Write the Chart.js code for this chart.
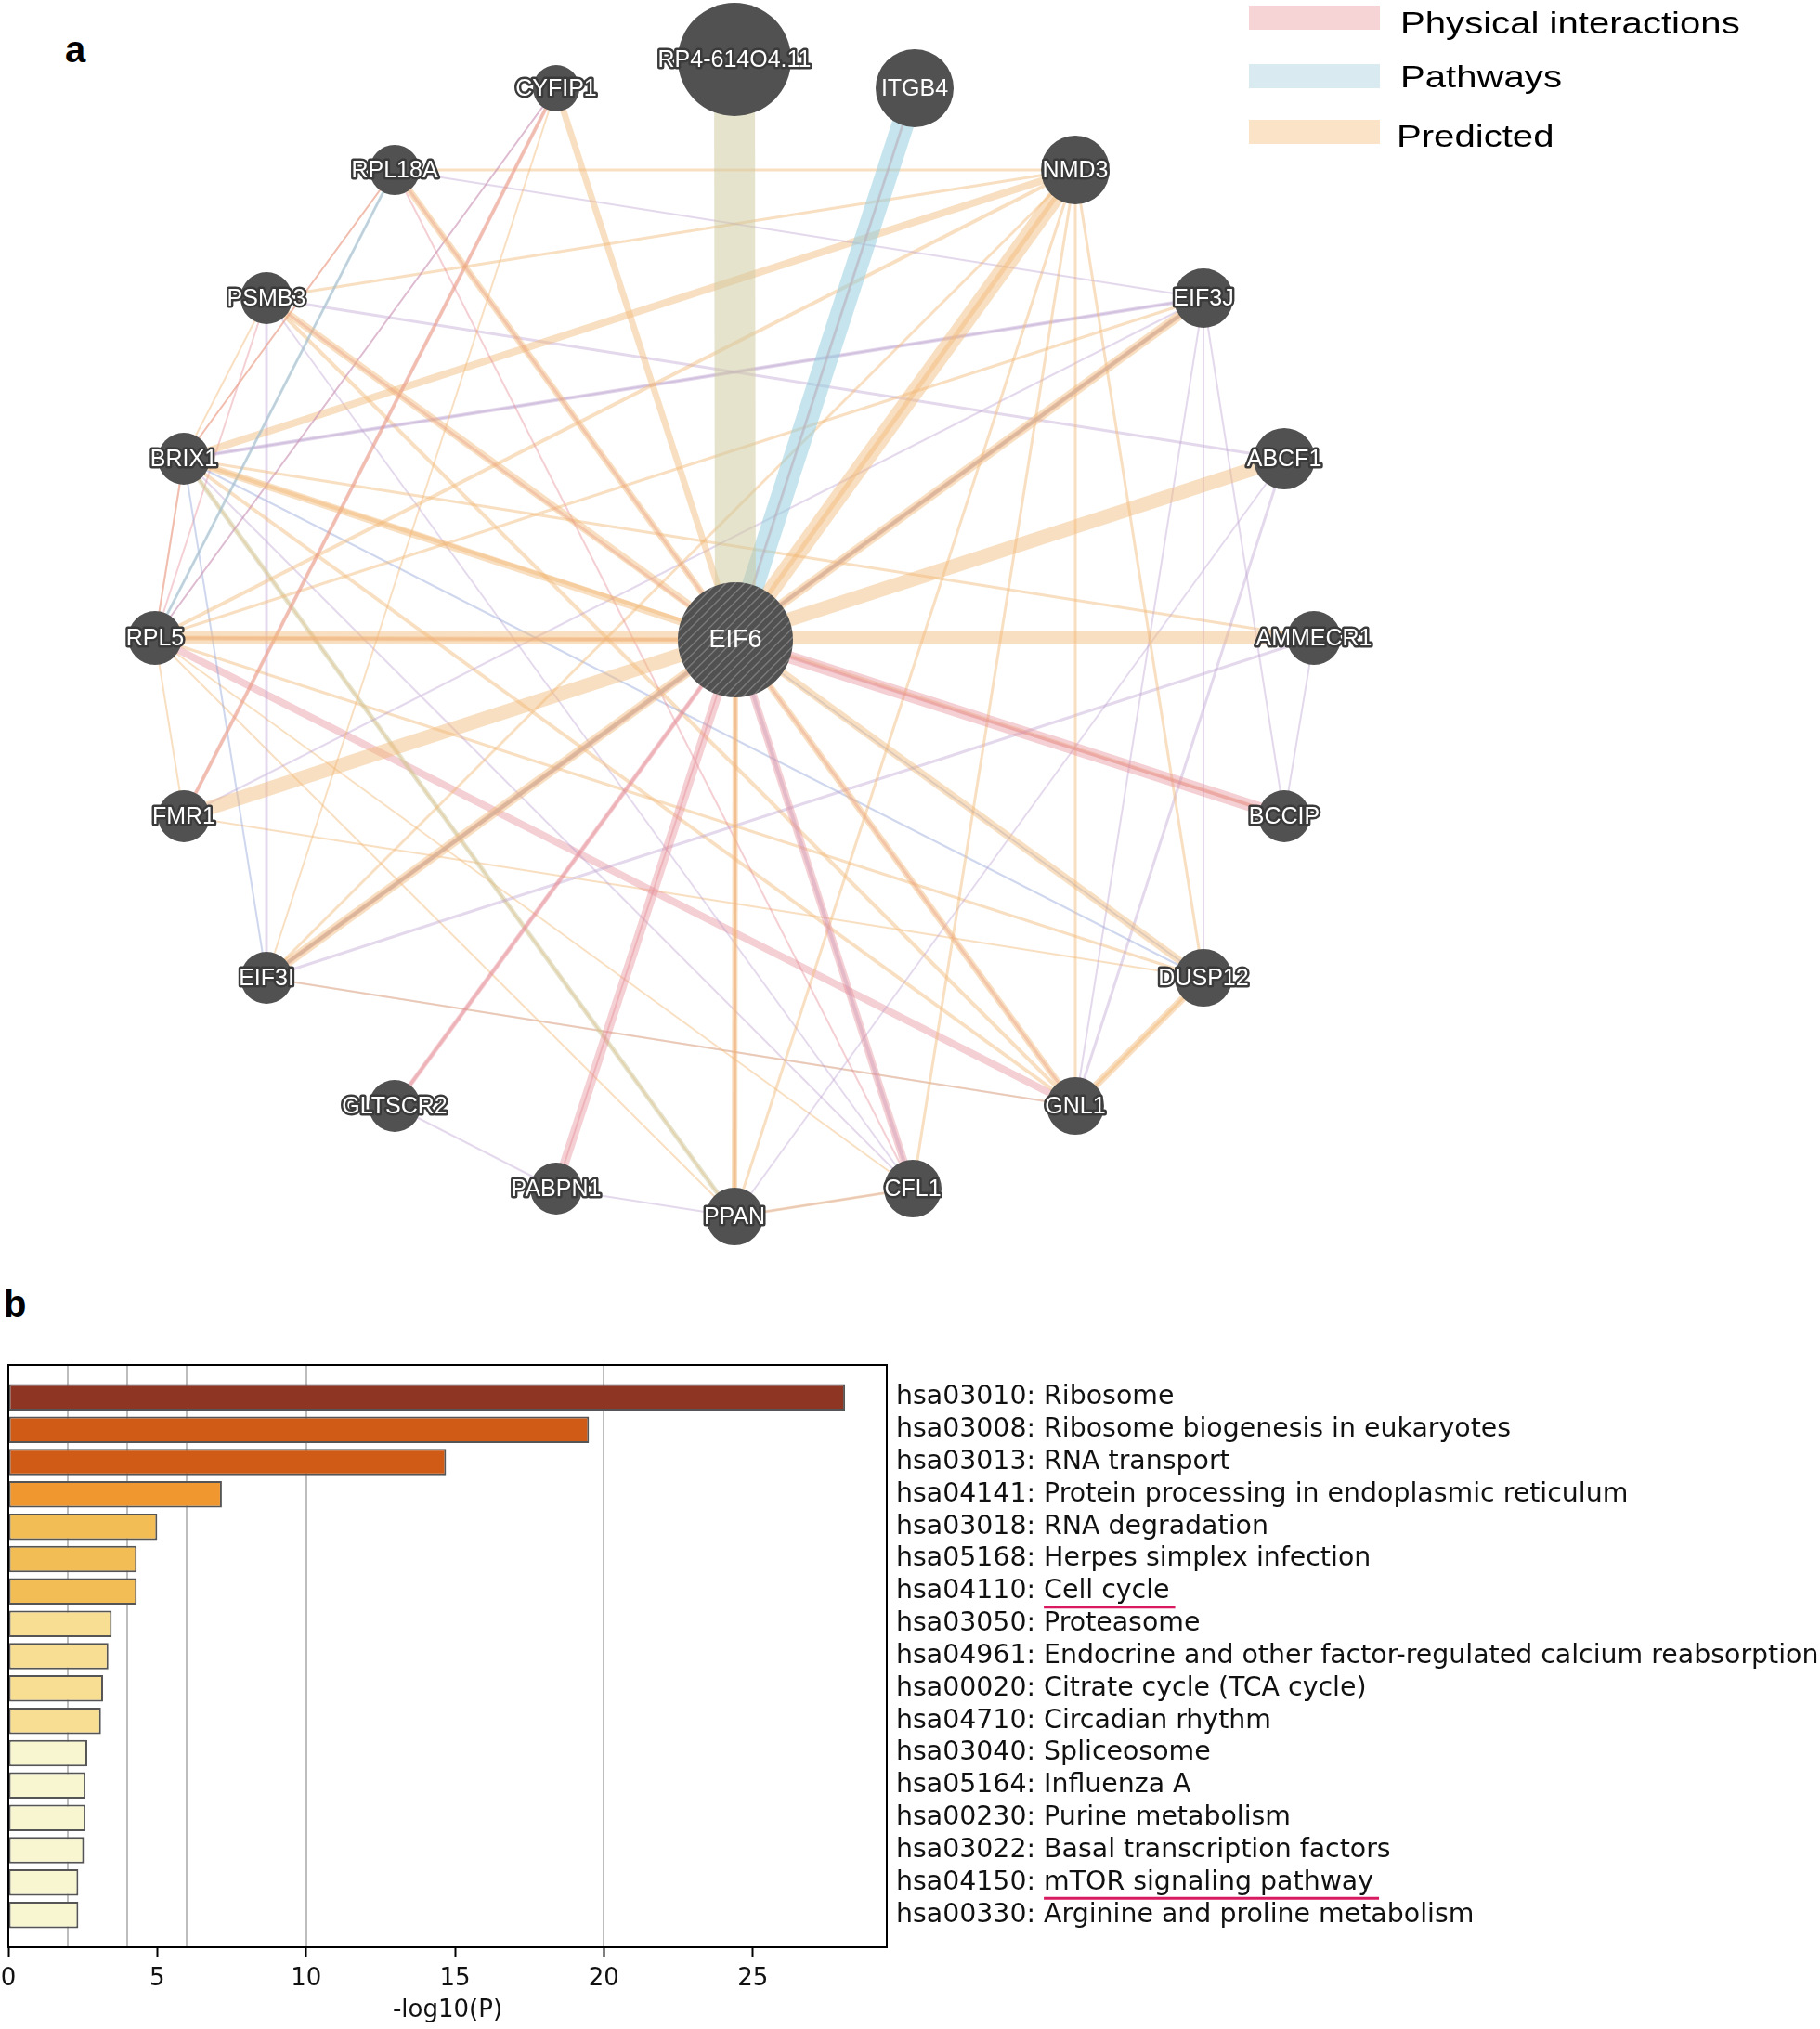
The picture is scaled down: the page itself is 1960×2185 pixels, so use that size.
<!DOCTYPE html>
<html>
<head>
<meta charset="utf-8">
<script src="https://cdn.jsdelivr.net/npm/chart.js@4.4.1/dist/chart.umd.min.js"></script>
<style>
  body { margin: 0; background: #fff; width: 1960px; height: 2185px; position: relative; overflow: hidden; }
  #netBox { position: absolute; left: 0; top: 0; width: 1960px; height: 1400px; }
  #barBox { position: absolute; left: 0; top: 1400px; width: 1960px; height: 785px; }
  .panel { position: absolute; font: bold 40px "Liberation Sans", Arial, sans-serif; line-height: 40px; color: #000; }
</style>
</head>
<body>
<div class="panel" style="left:70px;top:33px">a</div>
<div class="panel" style="left:4px;top:1384px">b</div>
<div id="netBox"><canvas id="netChart"></canvas></div>
<div id="barBox"><canvas id="barChart"></canvas></div>
<script>
// ---- panel a: gene network ----
const geneNames = ['EIF6', 'RP4-614O4.11', 'ITGB4', 'NMD3', 'EIF3J', 'ABCF1', 'AMMECR1', 'BCCIP', 'DUSP12', 'GNL1',
    'CFL1', 'PPAN', 'PABPN1', 'GLTSCR2', 'EIF3I', 'FMR1', 'RPL5', 'BRIX1', 'PSMB3', 'RPL18A', 'CYFIP1'];
const geneX = [792, 791, 985, 1158, 1296, 1383, 1415, 1383, 1296, 1158, 983, 791, 599, 425, 287, 198, 167, 198, 287, 425, 599];
const geneY = [689, 64, 95, 183, 321, 494, 687, 879, 1053, 1191, 1280, 1310, 1280, 1191, 1053, 879, 687, 494, 321, 183, 95];
const geneSize = [62, 61, 42, 37, 32, 33, 29, 28, 31, 31, 31, 31, 28, 28, 28, 28, 29, 28, 28, 27, 25];

// [gene, gene, network, weight]
const edges = [
    ['EIF6', 'RP4-614O4.11', 'domains', 44],
    ['EIF6', 'ITGB4', 'pathway', 24],
    ['EIF6', 'ITGB4', 'physical', 3],
    ['EIF6', 'NMD3', 'predicted', 18],
    ['EIF6', 'NMD3', 'predicted', 5],
    ['EIF3I', 'EIF3J', 'predicted', 10],
    ['EIF3I', 'EIF3J', 'physical', 5],
    ['EIF3I', 'EIF3J', 'pathway', 4],
    ['EIF3I', 'EIF3J', 'domains', 3],
    ['EIF6', 'EIF3I', 'coexpression', 3],
    ['FMR1', 'ABCF1', 'predicted', 15],
    ['RPL5', 'AMMECR1', 'predicted', 14],
    ['RPL5', 'EIF6', 'predicted', 5],
    ['RPL5', 'EIF6', 'physical', 3],
    ['EIF6', 'BCCIP', 'physical', 13],
    ['EIF6', 'BCCIP', 'physical', 3],
    ['BRIX1', 'EIF6', 'predicted', 8],
    ['PSMB3', 'DUSP12', 'predicted', 8],
    ['PSMB3', 'EIF6', 'physical', 3],
    ['RPL18A', 'GNL1', 'predicted', 7],
    ['RPL18A', 'GNL1', 'physical', 3],
    ['EIF6', 'CFL1', 'physical', 8],
    ['EIF6', 'CFL1', 'coexpression', 4],
    ['CYFIP1', 'EIF6', 'predicted', 7],
    ['EIF6', 'PPAN', 'predicted', 6],
    ['EIF6', 'PPAN', 'predicted', 3],
    ['EIF6', 'PPAN', 'physical', 3],
    ['EIF6', 'PABPN1', 'physical', 10],
    ['EIF6', 'GLTSCR2', 'physical', 5],
    ['EIF6', 'GLTSCR2', 'physical', 3],
    ['EIF6', 'DUSP12', 'colocalization', 2],
    ['CYFIP1', 'FMR1', 'physical', 4],
    ['CYFIP1', 'FMR1', 'predicted', 3],
    ['CYFIP1', 'RPL5', 'coexpression', 2],
    ['CYFIP1', 'RPL5', 'physical', 2],
    ['CYFIP1', 'EIF3I', 'predicted', 2],
    ['ITGB4', 'PABPN1', 'physical', 2],
    ['RPL18A', 'NMD3', 'predicted', 3],
    ['RPL18A', 'EIF3J', 'coexpression', 2],
    ['RPL18A', 'RPL5', 'pathway', 3],
    ['RPL18A', 'RPL5', 'physical', 2],
    ['RPL18A', 'BRIX1', 'physical', 2],
    ['RPL18A', 'BRIX1', 'predicted', 2],
    ['RPL18A', 'CFL1', 'physical', 2],
    ['NMD3', 'BRIX1', 'predicted', 8],
    ['NMD3', 'RPL5', 'predicted', 4],
    ['NMD3', 'PSMB3', 'predicted', 3],
    ['NMD3', 'EIF3I', 'predicted', 3],
    ['NMD3', 'GNL1', 'predicted', 3],
    ['NMD3', 'PPAN', 'predicted', 3],
    ['NMD3', 'CFL1', 'predicted', 3],
    ['NMD3', 'DUSP12', 'predicted', 3],
    ['EIF3J', 'BRIX1', 'coexpression', 4],
    ['EIF3J', 'BRIX1', 'coexpression', 2],
    ['EIF3J', 'DUSP12', 'coexpression', 2],
    ['EIF3J', 'BCCIP', 'coexpression', 2],
    ['EIF3J', 'GNL1', 'coexpression', 2],
    ['EIF3J', 'RPL5', 'predicted', 3],
    ['EIF3J', 'FMR1', 'coexpression', 2],
    ['ABCF1', 'PSMB3', 'coexpression', 3],
    ['ABCF1', 'GNL1', 'coexpression', 3],
    ['ABCF1', 'PPAN', 'coexpression', 2],
    ['AMMECR1', 'BCCIP', 'coexpression', 2],
    ['AMMECR1', 'EIF3I', 'coexpression', 3],
    ['BRIX1', 'BCCIP', 'predicted', 4],
    ['BRIX1', 'AMMECR1', 'predicted', 3],
    ['BRIX1', 'DUSP12', 'colocalization', 2],
    ['BRIX1', 'GNL1', 'predicted', 4],
    ['BRIX1', 'PPAN', 'domains', 5],
    ['BRIX1', 'PPAN', 'predicted', 2],
    ['BRIX1', 'RPL5', 'physical', 2],
    ['BRIX1', 'RPL5', 'predicted', 2],
    ['BRIX1', 'EIF3I', 'colocalization', 2],
    ['BRIX1', 'CFL1', 'coexpression', 2],
    ['PSMB3', 'EIF3I', 'coexpression', 3],
    ['PSMB3', 'RPL5', 'physical', 2],
    ['PSMB3', 'BRIX1', 'predicted', 2],
    ['PSMB3', 'GNL1', 'predicted', 4],
    ['PSMB3', 'CFL1', 'coexpression', 2],
    ['RPL5', 'GNL1', 'physical', 8],
    ['RPL5', 'DUSP12', 'predicted', 3],
    ['RPL5', 'PPAN', 'predicted', 2],
    ['RPL5', 'CFL1', 'predicted', 2],
    ['RPL5', 'FMR1', 'predicted', 2],
    ['EIF3I', 'GNL1', 'predicted', 2],
    ['EIF3I', 'GNL1', 'coexpression', 2],
    ['GLTSCR2', 'PABPN1', 'coexpression', 2],
    ['PABPN1', 'PPAN', 'coexpression', 2],
    ['PPAN', 'CFL1', 'predicted', 3],
    ['PPAN', 'CFL1', 'coexpression', 2],
    ['DUSP12', 'GNL1', 'predicted', 8],
    ['DUSP12', 'GNL1', 'predicted', 3],
    ['FMR1', 'DUSP12', 'predicted', 2]
];

const legendNames = ['Physical interactions', 'Pathways', 'Predicted'];

const edgeColors = {
    physical: 'rgba(228,140,150,0.42)',
    pathway: 'rgba(150,205,222,0.55)',
    predicted: 'rgba(242,184,118,0.45)',
    coexpression: 'rgba(185,155,205,0.38)',
    colocalization: 'rgba(140,160,215,0.42)',
    domains: 'rgba(205,200,155,0.5)'
};
const legendColors = ['#f6d3d5', '#d9ebf1', '#fae3c7'];
const nodeColor = '#505150';

function nodePoint(name) {
    const i = geneNames.indexOf(name);
    return { x: geneX[i], y: geneY[i] };
}

// hatched fill for the query gene
const tile = document.createElement('canvas');
tile.width = 10;
tile.height = 10;
const tctx = tile.getContext('2d');
tctx.fillStyle = nodeColor;
tctx.fillRect(0, 0, 10, 10);
tctx.strokeStyle = '#7c7c7c';
tctx.lineWidth = 1.4;
tctx.beginPath();
tctx.moveTo(0, 10); tctx.lineTo(10, 0);
tctx.moveTo(-5, 5); tctx.lineTo(5, -5);
tctx.moveTo(5, 15); tctx.lineTo(15, 5);
tctx.stroke();
const hatch = tctx.createPattern(tile, 'repeat');

const netDatasets = [{
    label: 'genes',
    data: geneNames.map((g, i) => ({ x: geneX[i], y: geneY[i] })),
    pointRadius: geneSize,
    pointBackgroundColor: geneNames.map((g, i) => i === 0 ? hatch : nodeColor),
    pointBorderWidth: 0,
    showLine: false
}];
edges.forEach(e => {
    netDatasets.push({
        label: e[0] + '-' + e[1],
        data: [nodePoint(e[0]), nodePoint(e[1])],
        showLine: true,
        borderColor: edgeColors[e[2]],
        borderWidth: e[3],
        pointRadius: 0
    });
});

const geneLabels = {
    id: 'geneLabels',
    afterDatasetsDraw(chart) {
        const { ctx, scales: { x, y } } = chart;
        ctx.save();
        ctx.textAlign = 'center';
        ctx.textBaseline = 'middle';
        ctx.lineJoin = 'round';
        geneNames.forEach((g, i) => {
            const px = x.getPixelForValue(geneX[i]);
            const py = y.getPixelForValue(geneY[i]);
            ctx.font = (i === 0 ? 27 : 25) + 'px "Liberation Sans", Arial, sans-serif';
            const w = ctx.measureText(g).width;
            if (w > geneSize[i] * 2 - 6) {
                ctx.strokeStyle = '#3a3a3a';
                ctx.lineWidth = 5;
                ctx.strokeText(g, px, py + 1);
            }
            ctx.fillStyle = '#fff';
            ctx.fillText(g, px, py + 1);
        });
        ctx.restore();
    }
};

const netLegend = {
    id: 'netLegend',
    afterDraw(chart) {
        const { ctx } = chart;
        ctx.save();
        legendNames.forEach((name, i) => {
            const cy = [19, 82, 142][i];
            ctx.fillStyle = legendColors[i];
            ctx.fillRect(1345, cy - 13, 141, 26);
            ctx.save();
            ctx.translate(i === 2 ? 1504 : 1508, [36, 94, 158][i]);
            ctx.scale(1.18, 1);
            ctx.fillStyle = '#000';
            ctx.font = '34px "Liberation Sans", Arial, sans-serif';
            ctx.textBaseline = 'alphabetic';
            ctx.fillText(name, 0, 0);
            ctx.restore();
        });
        ctx.restore();
    }
};

new Chart(document.getElementById('netChart').getContext('2d'), {
    type: 'scatter',
    data: { datasets: netDatasets },
    options: {
        responsive: true,
        maintainAspectRatio: false,
        animation: false,
        events: [],
        layout: { padding: 0, autoPadding: false },
        plugins: { legend: { display: false }, tooltip: { enabled: false } },
        scales: {
            x: { display: false, min: 0, max: 1960 },
            y: { display: false, min: 0, max: 1400, reverse: true }
        }
    },
    plugins: [geneLabels, netLegend]
});

// ---- panel b: KEGG enrichment ----
const pathways = [
    'hsa03010: Ribosome',
    'hsa03008: Ribosome biogenesis in eukaryotes',
    'hsa03013: RNA transport',
    'hsa04141: Protein processing in endoplasmic reticulum',
    'hsa03018: RNA degradation',
    'hsa05168: Herpes simplex infection',
    'hsa04110: Cell cycle',
    'hsa03050: Proteasome',
    'hsa04961: Endocrine and other factor-regulated calcium reabsorption',
    'hsa00020: Citrate cycle (TCA cycle)',
    'hsa04710: Circadian rhythm',
    'hsa03040: Spliceosome',
    'hsa05164: Influenza A',
    'hsa00230: Purine metabolism',
    'hsa03022: Basal transcription factors',
    'hsa04150: mTOR signaling pathway',
    'hsa00330: Arginine and proline metabolism'
];
const logP = [28.1, 19.5, 14.7, 7.17, 5.0, 4.31, 4.31, 3.47, 3.36, 3.18, 3.11, 2.65, 2.59, 2.59, 2.54, 2.35, 2.35];
const barColors = ['#8e3523', '#cf5b17', '#cf5b17', '#f0972f', '#f3bd56', '#f3bd56', '#f3bd56',
    '#f8de93', '#f8de93', '#f8de93', '#f8de93', '#f8f6d1', '#f8f6d1', '#f8f6d1', '#f8f6d1', '#f8f6d1', '#f8f6d1'];
const xTicks = [0, 5, 10, 15, 20, 25];
const gridValues = [2, 4, 6, 10, 20];
const underlined = ['hsa04110: Cell cycle', 'hsa04150: mTOR signaling pathway'];

const labelFont = { family: 'DejaVu Sans', size: 28.4 };

const frame = {
    id: 'frame',
    afterDatasetsDraw(chart) {
        const { ctx, chartArea: a } = chart;
        ctx.save();
        ctx.strokeStyle = '#000';
        ctx.lineWidth = 2;
        ctx.strokeRect(a.left, a.top, a.right - a.left, a.bottom - a.top);
        ctx.restore();
    }
};

const underline = {
    id: 'underline',
    afterDraw(chart) {
        const { ctx, scales: { y } } = chart;
        ctx.save();
        ctx.font = labelFont.size + 'px "' + labelFont.family + '"';
        ctx.strokeStyle = '#d81b60';
        ctx.lineWidth = 3;
        underlined.forEach(name => {
            const i = pathways.indexOf(name);
            const cut = name.indexOf(': ') + 2;
            const x0 = y.left + 10 + ctx.measureText(name.slice(0, cut)).width;
            const x1 = x0 + ctx.measureText(name.slice(cut)).width + 6;
            const py = y.getPixelForValue(i) + 17;
            ctx.beginPath();
            ctx.moveTo(x0, py);
            ctx.lineTo(x1, py);
            ctx.stroke();
        });
        ctx.restore();
    }
};

new Chart(document.getElementById('barChart').getContext('2d'), {
    type: 'bar',
    data: {
        datasets: [{
            label: '-log10(P)',
            data: logP.map((v, i) => ({ x: v, y: i })),
            backgroundColor: barColors,
            borderColor: '#555',
            borderWidth: 2,
            borderSkipped: false,
            categoryPercentage: 1,
            barPercentage: 0.82,
            xAxisID: 'x',
            yAxisID: 'y'
        }]
    },
    options: {
        indexAxis: 'y',
        responsive: true,
        maintainAspectRatio: false,
        animation: false,
        events: [],
        layout: { padding: { left: 9, top: 70, right: 0, bottom: 0 } },
        plugins: { legend: { display: false }, tooltip: { enabled: false } },
        scales: {
            x: {
                type: 'linear',
                position: 'bottom',
                min: 0,
                max: 29.5,
                afterBuildTicks: s => { s.ticks = xTicks.map(v => ({ value: v })); },
                ticks: { color: '#111', font: { family: 'DejaVu Sans', size: 26 }, padding: 9 },
                grid: { drawOnChartArea: false, drawTicks: true, tickLength: 10, tickWidth: 2, tickColor: '#000' },
                border: { display: true, color: '#000', width: 2 },
                title: { display: true, text: '-log10(P)', color: '#111', font: { family: 'DejaVu Sans', size: 26 }, padding: { top: 6 } },
                afterFit: s => { s.height = 88; s.paddingLeft = 0; s.paddingRight = 0; }
            },
            xg: {
                type: 'linear',
                axis: 'x',
                position: 'top',
                min: 0,
                max: 29.5,
                afterBuildTicks: s => { s.ticks = gridValues.map(v => ({ value: v })); },
                ticks: { display: false },
                grid: { color: '#bdbdbd', lineWidth: 2, drawTicks: false },
                border: { display: false },
                afterFit: s => { s.height = 0; s.paddingLeft = 0; s.paddingRight = 0; }
            },
            y: {
                type: 'linear',
                position: 'right',
                reverse: true,
                offset: false,
                min: -1,
                max: 17,
                afterBuildTicks: s => { s.ticks = pathways.map((p, i) => ({ value: i })); },
                ticks: { color: '#111', font: labelFont, padding: 10, autoSkip: false, callback: v => pathways[v] },
                grid: { display: false, drawTicks: false, offset: false },
                border: { display: true, color: '#000', width: 2 },
                afterFit: s => { s.width = 1005; }
            }
        }
    },
    plugins: [frame, underline]
});
</script>
</body>
</html>
